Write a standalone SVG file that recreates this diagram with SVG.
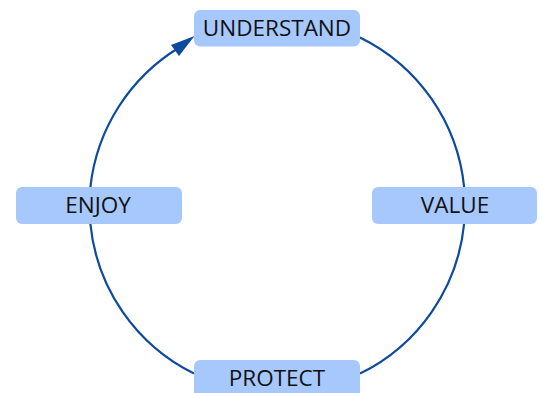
<svg xmlns="http://www.w3.org/2000/svg" width="542" height="393" viewBox="0 0 542 393">
<style>
.box{fill:#a6c8fd;}
.lbl{font-family:"Open Sans","Liberation Sans",sans-serif;font-size:22.5px;fill:#111;text-anchor:middle;}
.arc{fill:none;stroke:#0b4a9f;stroke-width:2.2;}
</style>
<rect width="542" height="393" fill="#fff"/>
<g id="connectors">
<path class="arc" d="M90.4,187 A187.5,187.5 0 0 1 180,47"/>
<path d="M194.5,36 L171,45 L179,56 Z" fill="#0b4a9f"/>
<path class="arc" d="M360,37.4 A187.5,187.5 0 0 1 464.1,187"/>
<path class="arc" d="M464.1,224 A187.5,187.5 0 0 1 360,373.6"/>
<path class="arc" d="M194,373.6 A187.5,187.5 0 0 1 90.4,224"/>
</g>
<g id="understand"><rect class="box" x="194" y="10" width="166" height="36.5" rx="6"/><text class="lbl" x="277" y="35.5">UNDERSTAND</text></g>
<g id="enjoy"><rect class="box" x="16" y="187" width="166" height="37" rx="6"/><text class="lbl" x="98" y="212.8">ENJOY</text></g>
<g id="value"><rect class="box" x="372" y="187" width="165" height="37" rx="6"/><text class="lbl" x="455" y="212.8">VALUE</text></g>
<g id="protect"><rect class="box" x="194" y="360" width="166" height="40" rx="6"/><text class="lbl" x="277" y="385.5">PROTECT</text></g>
</svg>
